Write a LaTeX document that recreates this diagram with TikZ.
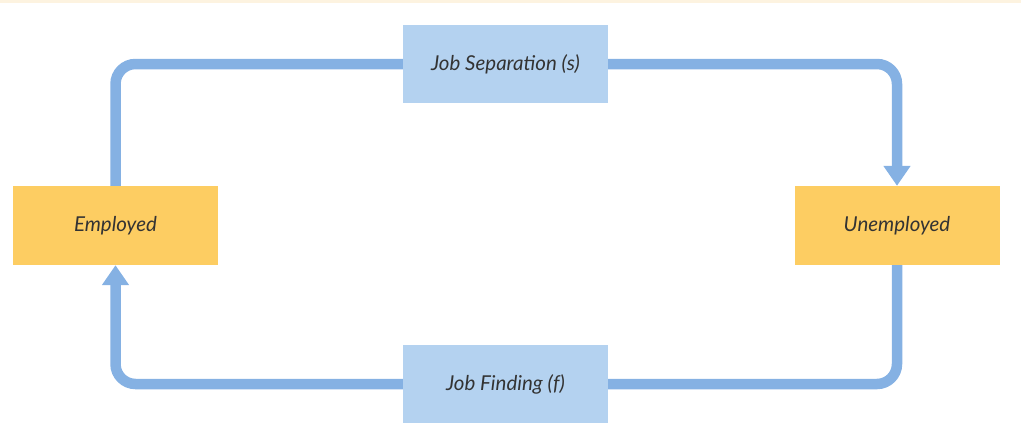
\documentclass[tikz,border=0pt]{standalone}
\usepackage{fontspec}
\setmainfont{Lato}
\usepackage{xcolor}
\usetikzlibrary{arrows.meta,positioning}

\definecolor{flowblue}{HTML}{85B1E3}
\definecolor{ratebox}{HTML}{B4D2F0}
\definecolor{statebox}{HTML}{FDCD62}
\definecolor{topband}{HTML}{FDF3E0}
\definecolor{labelgray}{HTML}{333333}

\begin{document}
\begin{tikzpicture}[x=1pt, y=-1pt,
		state/.style={fill=statebox, minimum width=205pt, minimum height=79pt, inner sep=0pt, font=\fontsize{20.5}{22}\selectfont\itshape, text=labelgray},
		rate/.style={fill=ratebox, minimum width=205pt, minimum height=78pt, inner sep=0pt, font=\fontsize{20.5}{22}\selectfont\itshape, text=labelgray},
		flow/.style={draw=flowblue, line width=10.5pt, rounded corners=20pt},
		flowarrow/.style={flow, -{Triangle[length=20pt, width=26pt]}}]
			\useasboundingbox (0,0) rectangle (1021,439);
			\fill[topband] (0,0) rectangle (1021,3);
			
			\node[state] (emp) at (115.5,225.5) {Employed};
			\node[state] (unemp) at (897,225.5) {Unemployed};
			\node[rate] (sep) at (505.5,64) {Job Separation (s)};
			\node[rate] (find) at (505.5,384) {Job Finding (f)};
			
			% upper loop
			\draw[flow] (emp.north) |- (sep.west);
			\draw[flowarrow] (sep.east) -| (unemp.north);
			
			% lower loop
			\draw[flow] (unemp.south) |- (find.east);
			\draw[flowarrow] (find.west) -| (emp.south);
		\end{tikzpicture}
\end{document}
